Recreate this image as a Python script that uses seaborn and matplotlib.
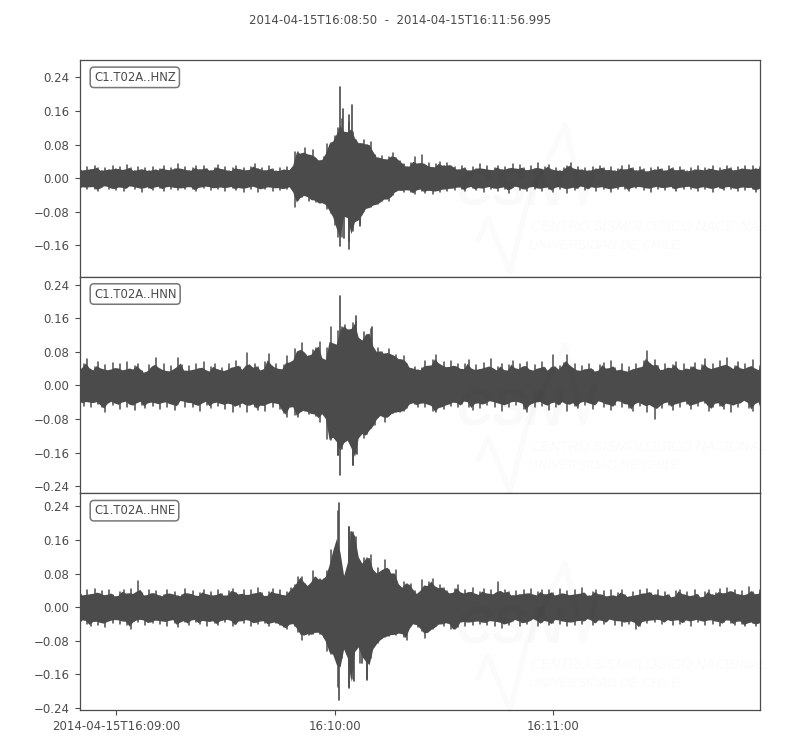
import numpy as np
import pandas as pd
import matplotlib
matplotlib.use("Agg")
import matplotlib.pyplot as plt
from matplotlib.lines import Line2D
import seaborn as sns

title = "2014-04-15T16:08:50  -  2014-04-15T16:11:56.995"
channels = ["C1.T02A..HNZ", "C1.T02A..HNN", "C1.T02A..HNE"]
x_ticks = [10, 70, 130]
x_labels = ["2014-04-15T16:09:00", "16:10:00", "16:11:00"]
y_ticks = [0.24, 0.16, 0.08, 0.0, -0.08, -0.16, -0.24]

# envelope, one value per second, in 0.001 units
z_up = [22,18,26,20,30,24,17,25,19,28,
        21,27,18,32,23,17,26,20,24,16,
        27,19,22,29,18,25,21,33,20,26,
        17,24,28,19,30,22,18,25,31,20,
        26,16,23,29,20,24,18,27,33,21,
        25,17,28,22,16,24,19,26,18,62,
        63,58,72,52,66,46,42,50,82,84,
        100,120,140,100,135,110,90,82,90,78,
        85,55,48,52,44,50,60,48,42,34,
        26,36,50,30,54,28,36,24,34,38,
        28,37,30,27,19,30,24,17,26,21,
        33,20,28,18,25,30,19,27,22,34,
        20,31,24,18,28,21,36,19,27,32,
        18,25,16,24,29,35,20,27,19,23,
        17,26,21,30,24,18,27,16,22,28,
        19,31,24,17,26,21,15,25,19,27,
        22,17,28,24,18,26,20,16,23,19,
        28,18,24,21,29,17,25,20,30,23,
        18,27,21,30,19,28,22,26]
z_down = [24,19,27,18,25,30,21,17,26,23,
          29,18,31,22,17,26,20,33,19,24,
          28,18,23,30,17,25,20,29,21,26,
          18,27,30,19,24,17,28,21,26,19,
          31,18,24,28,20,33,19,25,17,34,
          22,27,18,30,20,29,23,26,18,68,
          52,44,40,54,50,58,60,58,74,84,
          112,140,140,70,150,125,95,110,78,70,
          70,62,62,55,48,54,40,30,28,32,
          26,34,38,24,30,36,26,38,28,32,
          24,30,22,28,19,26,31,18,24,29,
          20,33,17,27,22,30,19,25,35,21,
          18,28,24,31,17,26,22,30,19,27,
          32,18,25,21,35,19,28,23,17,29,
          24,19,30,18,26,22,33,20,27,17,
          25,31,19,24,18,28,21,32,17,26,
          20,29,18,24,31,19,27,17,25,22,
          30,18,26,21,33,19,24,29,17,27,
          22,31,18,28,20,26,32,23]
n_up = [40,50,62,34,44,56,36,48,33,54,
        38,50,32,55,36,46,52,34,30,48,
        44,66,34,50,30,46,36,66,48,32,
        46,34,52,38,56,30,44,50,36,42,
        33,52,40,58,44,36,78,40,52,44,
        34,56,74,40,52,36,48,70,50,86,
        80,100,73,70,85,90,103,50,90,140,
        85,130,140,145,130,148,150,100,128,120,
        135,77,89,80,75,87,70,73,60,71,
        52,40,45,36,42,58,44,60,73,46,
        56,40,58,44,52,36,50,60,34,48,
        36,54,40,62,34,44,52,32,48,58,
        36,50,44,56,32,48,38,55,42,34,
        72,36,46,54,72,40,50,32,46,36,
        52,38,32,48,54,36,58,42,34,50,
        30,44,36,52,40,58,82,44,60,46,
        34,52,40,48,56,32,50,38,44,54,
        34,48,62,36,50,40,58,44,66,38,
        46,56,36,50,42,60,34,46]
n_down = [38,48,34,52,36,44,50,62,34,46,
          40,56,32,50,42,58,34,46,54,36,
          48,38,56,34,50,40,58,44,32,50,
          36,52,42,60,34,46,54,36,48,40,
          56,36,62,44,50,38,64,40,52,58,
          42,60,36,50,38,56,66,74,42,70,
          74,58,60,68,66,72,88,58,128,130,
          120,165,150,130,130,190,160,110,125,115,
          102,94,74,70,88,70,66,62,62,60,
          54,40,43,52,38,50,42,60,64,48,
          56,42,48,36,52,44,34,50,58,36,
          54,40,46,32,52,36,60,40,50,34,
          46,36,56,64,38,50,34,48,42,58,
          34,52,44,36,60,38,48,54,34,46,
          38,56,42,34,52,40,58,46,32,50,
          40,54,60,36,48,42,62,38,80,44,
          54,36,46,58,38,50,34,44,56,40,
          48,34,42,60,52,38,48,56,36,62,
          40,50,38,34,54,60,36,46]
e_up = [36,26,40,28,44,32,38,26,42,30,
        25,36,42,30,44,28,62,34,26,40,
        32,38,26,29,42,30,36,26,30,44,
        30,38,25,34,42,28,36,26,40,32,
        26,38,44,34,30,40,26,42,30,46,
        34,25,36,44,30,40,26,36,46,52,
        72,72,55,50,86,70,66,68,86,135,
        135,230,88,70,190,179,167,100,116,116,
        124,76,94,84,112,88,78,88,42,60,
        56,54,38,30,64,48,60,67,44,52,
        46,38,32,44,52,30,42,34,46,28,
        36,44,30,40,28,59,32,42,36,26,
        38,28,42,30,44,26,36,40,28,42,
        34,26,44,30,38,26,42,28,46,32,
        26,36,40,28,38,22,42,24,34,40,
        28,24,36,26,42,30,44,34,28,40,
        24,36,30,22,38,42,28,36,24,40,
        30,22,36,40,28,34,44,30,46,36,
        42,28,38,26,48,36,30,40]
e_down = [36,28,40,44,30,42,34,48,28,38,
          26,40,30,42,52,28,36,26,42,34,
          38,28,40,30,44,26,38,48,30,36,
          42,26,36,40,28,44,30,38,42,28,
          36,26,46,40,30,38,26,44,34,40,
          30,38,44,34,38,42,48,52,36,46,
          58,78,62,66,64,58,64,72,104,112,
          114,190,122,90,190,172,78,134,110,172,
          122,90,86,74,70,68,64,66,60,70,
          78,40,39,48,56,73,55,52,46,38,
          44,34,52,52,48,30,44,32,42,30,
          40,34,42,28,44,30,50,36,42,32,
          28,44,34,40,30,26,44,36,30,42,
          38,26,40,30,44,32,42,28,40,30,
          26,42,36,28,40,34,26,42,28,44,
          32,40,30,52,44,30,38,28,36,26,
          40,34,28,42,26,40,36,28,44,26,
          36,30,42,26,40,30,44,36,28,38,
          42,30,40,46,34,38,44,36]

# narrow spikes, time in seconds and value in 0.001 units
z_spike_t = [71.6, 72.4, 74.7, 73.9, 71.4, 74.0, 72.5, 77.0, 76.2]
z_spike_v = [217, 165, 174, 150, -163, -168, -143, -113, -97]
n_spike_t = [71.5, 76.0, 80.3, 71.5, 75.0, 70.9, 76.1]
n_spike_v = [212, 166, 139, -212, -190, -166, -162]
e_spike_t = [71.3, 74.0, 74.6, 75.4, 71.3, 74.0, 75.4, 79.0, 77.5]
e_spike_v = [249, 190, 179, 167, -221, -192, -176, -174, -134]

ups = [z_up, n_up, e_up]
downs = [z_down, n_down, e_down]
spike_times = [z_spike_t, n_spike_t, e_spike_t]
spike_values = [z_spike_v, n_spike_v, e_spike_v]
y_limits = [(-0.235, 0.2817), (-0.2567, 0.259), (-0.245, 0.271)]
duration = 186.995

dark = "#4b4b4b"


def draw_lines(ax, times, values, width):
    # each line runs from the zero axis out to its value
    lines = pd.DataFrame({
        "line": np.repeat(np.arange(len(times)), 2),
        "time": np.repeat(times, 2),
        "value": np.ravel([[0, v] for v in values]),
    })
    sns.lineplot(data=lines, x="time", y="value", units="line", estimator=None,
                 sort=False, ax=ax, color=dark, lw=width, legend=False)


def body_of(values):
    # solid part of the trace: a bit above the valley between neighbouring samples
    small = np.minimum(np.abs(values[:-1]), np.abs(values[1:]))
    large = np.maximum(np.abs(values[:-1]), np.abs(values[1:]))
    mids = (small + 0.3 * (large - small)) * np.sign(values[0])
    return np.concatenate([values[:1], mids, values[-1:]])


sns.set_style("ticks")
plt.rcParams["font.family"] = "DejaVu Sans"
plt.rcParams["text.color"] = dark
plt.rcParams["axes.labelcolor"] = dark
plt.rcParams["xtick.color"] = dark
plt.rcParams["ytick.color"] = dark
plt.rcParams["axes.edgecolor"] = dark

fig, axes = plt.subplots(3, 1, figsize=(8, 7.5), dpi=100, sharex=True)
fig.subplots_adjust(left=0.1, right=0.95, top=0.92, bottom=0.0533, hspace=0)

for i, ax in enumerate(axes):
    seconds = np.arange(len(ups[i]))
    upper = np.array(ups[i]) / 1000
    lower = -np.array(downs[i]) / 1000

    body_t = np.concatenate([seconds[:1], seconds[:-1] + 0.5, seconds[-1:]])
    ax.fill_between(body_t, body_of(lower), body_of(upper), color=dark, linewidth=0)
    draw_lines(ax, seconds, upper, 1.1)
    draw_lines(ax, seconds, lower, 1.1)
    draw_lines(ax, spike_times[i], np.array(spike_values[i]) / 1000, 1.2)

    ax.set_xlim(0, duration)
    ax.set_ylim(*y_limits[i])
    shown = [t for t in y_ticks if y_limits[i][0] <= t <= y_limits[i][1]]
    ax.set_yticks(shown)
    ax.set_yticklabels([f"{t:.2f}".replace("-", "\u2212") for t in shown])
    ax.tick_params(axis="y", labelsize=8.5, length=3.5, width=0.8, pad=4)
    ax.tick_params(axis="x", labelsize=8.5, length=3.5, width=0.8, pad=4)
    ax.set_xlabel("")
    ax.set_ylabel("")
    for spine in ax.spines.values():
        spine.set_visible(True)
        spine.set_linewidth(0.9)
    ax.text(0.0205, 0.92, channels[i], transform=ax.transAxes, fontsize=8.4,
            va="center", ha="left",
            bbox=dict(boxstyle="round,pad=0.32", facecolor="white", edgecolor="#777777", linewidth=1.1))

axes[-1].set_xticks(x_ticks)
axes[-1].set_xticklabels(x_labels)
for ax in axes[:-1]:
    ax.tick_params(axis="x", bottom=False, labelbottom=False)

fig.text(0.5, 1 - 20 / 750, title, ha="center", va="center", fontsize=8.45)

# faint logo sitting over each panel
for dy in [0, 220, 438]:
    px = [478, 488, 510, 528, 565, 583, 595]
    py = [240, 218, 272, 200, 125, 203, 165]
    fig.add_artist(Line2D([p / 800 for p in px], [1 - (p + dy) / 750 for p in py],
                          color="black", alpha=0.015, lw=4, zorder=10))
    fig.text(455 / 800, 1 - (205 + dy) / 750, "CSN", fontsize=37, color="black", alpha=0.02,
             family="Liberation Sans", weight="bold", style="italic", va="baseline", zorder=10)
    fig.text(531 / 800, 1 - (231 + dy) / 750, "CENTRO SISMOLÓGICO NACIONAL", fontsize=10, color="black",
             alpha=0.02, family="Liberation Sans", style="italic", va="baseline", zorder=10)
    fig.text(529 / 800, 1 - (249 + dy) / 750, "UNIVERSIDAD DE CHILE", fontsize=9.3, color="black",
             alpha=0.02, family="Liberation Sans", style="italic", va="baseline", zorder=10)

fig.savefig("out.png", dpi=100)
